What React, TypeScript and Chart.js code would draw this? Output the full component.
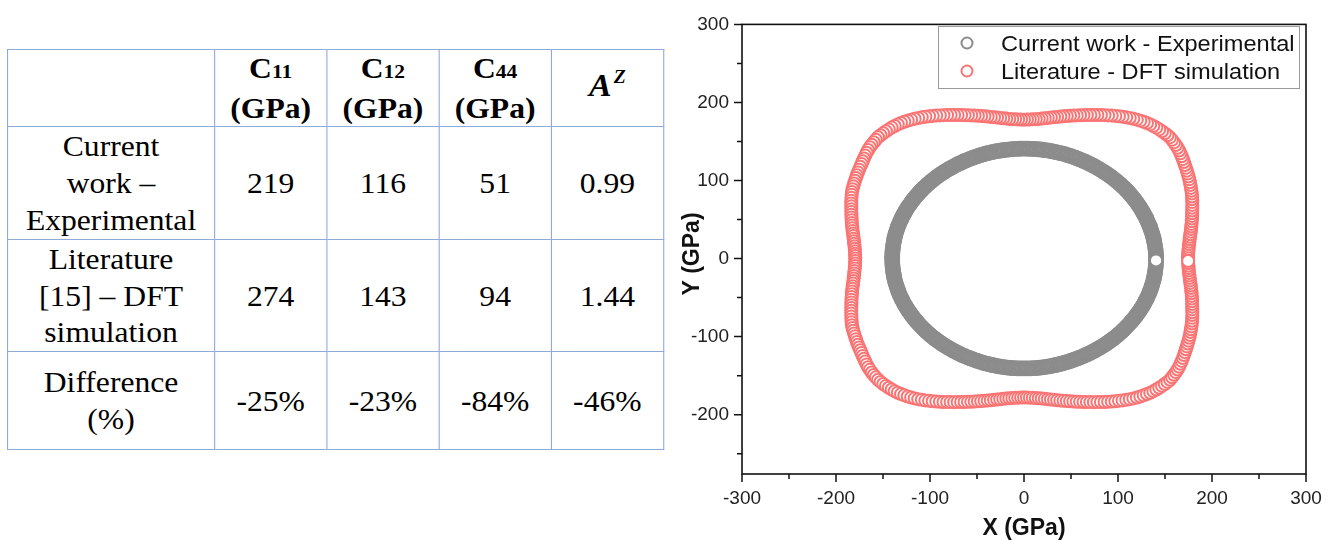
import React, { useEffect, useRef } from 'react';
import { Chart, registerables } from 'chart.js';

Chart.register(...registerables);

// ---------- Table data ----------
const TABLE_HEAD_MAIN = ['C', 'C', 'C'];
const TABLE_HEAD_SUB = ['11', '12', '44'];
const TABLE_HEAD_UNIT = '(GPa)';
const ROW_LABELS = [
  ['Current', 'work –', 'Experimental'],
  ['Literature', '[15] – DFT', 'simulation'],
  ['Difference', '(%)'],
];
const ROW_EXPERIMENTAL = ['219', '116', '51', '0.99'];
const ROW_DFT = ['274', '143', '94', '1.44'];
const ROW_DIFF = ['-25%', '-23%', '-84%', '-46%'];

// ---------- Chart data (polar: angle in degrees, radius in GPa) ----------
const ANGLES_DEG = [
  0, 1, 2, 3, 4, 5, 6, 7, 8, 9, 10, 11, 12, 13, 14, 15, 16, 17, 18, 19,
  20, 21, 22, 23, 24, 25, 26, 27, 28, 29, 30, 31, 32, 33, 34, 35, 36, 37, 38, 39,
  40, 41, 42, 43, 44, 45, 46, 47, 48, 49, 50, 51, 52, 53, 54, 55, 56, 57, 58, 59,
  60, 61, 62, 63, 64, 65, 66, 67, 68, 69, 70, 71, 72, 73, 74, 75, 76, 77, 78, 79,
  80, 81, 82, 83, 84, 85, 86, 87, 88, 89, 90, 91, 92, 93, 94, 95, 96, 97, 98, 99,
  100, 101, 102, 103, 104, 105, 106, 107, 108, 109, 110, 111, 112, 113, 114, 115, 116, 117, 118, 119,
  120, 121, 122, 123, 124, 125, 126, 127, 128, 129, 130, 131, 132, 133, 134, 135, 136, 137, 138, 139,
  140, 141, 142, 143, 144, 145, 146, 147, 148, 149, 150, 151, 152, 153, 154, 155, 156, 157, 158, 159,
  160, 161, 162, 163, 164, 165, 166, 167, 168, 169, 170, 171, 172, 173, 174, 175, 176, 177, 178, 179,
  180, 181, 182, 183, 184, 185, 186, 187, 188, 189, 190, 191, 192, 193, 194, 195, 196, 197, 198, 199,
  200, 201, 202, 203, 204, 205, 206, 207, 208, 209, 210, 211, 212, 213, 214, 215, 216, 217, 218, 219,
  220, 221, 222, 223, 224, 225, 226, 227, 228, 229, 230, 231, 232, 233, 234, 235, 236, 237, 238, 239,
  240, 241, 242, 243, 244, 245, 246, 247, 248, 249, 250, 251, 252, 253, 254, 255, 256, 257, 258, 259,
  260, 261, 262, 263, 264, 265, 266, 267, 268, 269, 270, 271, 272, 273, 274, 275, 276, 277, 278, 279,
  280, 281, 282, 283, 284, 285, 286, 287, 288, 289, 290, 291, 292, 293, 294, 295, 296, 297, 298, 299,
  300, 301, 302, 303, 304, 305, 306, 307, 308, 309, 310, 311, 312, 313, 314, 315, 316, 317, 318, 319,
  320, 321, 322, 323, 324, 325, 326, 327, 328, 329, 330, 331, 332, 333, 334, 335, 336, 337, 338, 339,
  340, 341, 342, 343, 344, 345, 346, 347, 348, 349, 350, 351, 352, 353, 354, 355, 356, 357, 358, 359,
];

const R_EXPERIMENTAL = [
  140.5, 140.5, 140.5, 140.4, 140.4, 140.4, 140.3, 140.3, 140.3, 140.2,
  140.2, 140.2, 140.1, 140.1, 140.1, 140.0, 140.0, 140.0, 139.9, 139.9,
  139.9, 139.9, 139.9, 139.8, 139.8, 139.8, 139.8, 139.8, 139.8, 139.8,
  139.8, 139.8, 139.8, 139.8, 139.8, 139.8, 139.8, 139.8, 139.8, 139.8,
  139.8, 139.8, 139.8, 139.8, 139.8, 139.8, 139.8, 139.8, 139.8, 139.8,
  139.8, 139.8, 139.8, 139.8, 139.8, 139.9, 139.9, 139.9, 139.9, 140.0,
  140.0, 140.0, 140.1, 140.1, 140.1, 140.2, 140.2, 140.3, 140.3, 140.4,
  140.4, 140.4, 140.5, 140.5, 140.5, 140.6, 140.6, 140.6, 140.7, 140.7,
  140.7, 140.7, 140.8, 140.8, 140.8, 140.8, 140.8, 140.8, 140.8, 140.8,
  140.8, 140.8, 140.8, 140.8, 140.8, 140.8, 140.7, 140.7, 140.7, 140.7,
  140.6, 140.6, 140.6, 140.5, 140.5, 140.5, 140.4, 140.4, 140.3, 140.3,
  140.2, 140.2, 140.1, 140.1, 140.1, 140.0, 140.0, 140.0, 139.9, 139.9,
  139.9, 139.9, 139.8, 139.8, 139.8, 139.8, 139.8, 139.8, 139.8, 139.8,
  139.8, 139.8, 139.8, 139.8, 139.8, 139.8, 139.8, 139.8, 139.8, 139.8,
  139.8, 139.8, 139.8, 139.8, 139.8, 139.8, 139.9, 139.9, 139.9, 139.9,
  139.9, 140.0, 140.0, 140.0, 140.0, 140.0, 140.1, 140.1, 140.1, 140.1,
  140.1, 140.1, 140.1, 140.2, 140.2, 140.2, 140.2, 140.2, 140.2, 140.2,
  140.2, 140.2, 140.2, 140.2, 140.2, 140.2, 140.2, 140.2, 140.2, 140.2,
  140.2, 140.2, 140.2, 140.2, 140.2, 140.2, 140.2, 140.2, 140.2, 140.2,
  140.2, 140.2, 140.2, 140.2, 140.1, 140.1, 140.1, 140.1, 140.1, 140.1,
  140.1, 140.0, 140.0, 140.0, 140.0, 140.0, 139.9, 139.9, 139.9, 139.9,
  139.9, 139.8, 139.8, 139.8, 139.8, 139.8, 139.8, 139.8, 139.8, 139.8,
  139.8, 139.8, 139.8, 139.8, 139.8, 139.8, 139.8, 139.8, 139.8, 139.8,
  139.8, 139.8, 139.8, 139.8, 139.8, 139.8, 139.8, 139.8, 139.9, 139.9,
  139.9, 139.9, 140.0, 140.0, 140.0, 140.1, 140.1, 140.1, 140.2, 140.2,
  140.3, 140.3, 140.4, 140.4, 140.4, 140.5, 140.5, 140.5, 140.6, 140.6,
  140.6, 140.7, 140.7, 140.7, 140.7, 140.8, 140.8, 140.8, 140.8, 140.8,
  140.8, 140.8, 140.8, 140.8, 140.8, 140.8, 140.7, 140.7, 140.7, 140.7,
  140.6, 140.6, 140.6, 140.5, 140.5, 140.5, 140.4, 140.4, 140.3, 140.3,
  140.2, 140.2, 140.1, 140.1, 140.1, 140.0, 140.0, 140.0, 139.9, 139.9,
  139.9, 139.9, 139.8, 139.8, 139.8, 139.8, 139.8, 139.8, 139.8, 139.8,
  139.8, 139.8, 139.8, 139.8, 139.8, 139.8, 139.8, 139.8, 139.8, 139.8,
  139.8, 139.8, 139.8, 139.8, 139.8, 139.8, 139.9, 139.9, 139.9, 139.9,
  140.0, 140.0, 140.0, 140.1, 140.1, 140.1, 140.2, 140.2, 140.2, 140.3,
  140.3, 140.3, 140.3, 140.4, 140.4, 140.4, 140.4, 140.4, 140.5, 140.5,
  140.5, 140.5, 140.5, 140.5, 140.5, 140.5, 140.5, 140.5, 140.5, 140.5,
];

const R_DFT = [
  174.5, 174.6, 174.8, 175.1, 175.5, 176.0, 176.6, 177.3, 178.0, 178.8,
  179.7, 180.7, 181.7, 182.7, 183.7, 184.8, 185.9, 187.0, 188.1, 189.3,
  190.5, 191.8, 193.1, 194.4, 195.7, 197.0, 198.2, 199.4, 200.6, 201.8,
  203.0, 204.2, 205.4, 206.6, 207.8, 209.0, 210.3, 211.6, 212.9, 214.2,
  215.5, 216.5, 217.4, 218.2, 218.9, 219.5, 219.7, 219.6, 219.5, 219.3,
  219.0, 218.6, 218.1, 217.4, 216.6, 215.7, 214.7, 213.6, 212.4, 211.1,
  209.8, 208.4, 207.0, 205.6, 204.1, 202.7, 201.2, 199.8, 198.4, 197.0,
  195.6, 194.3, 193.0, 191.8, 190.6, 189.4, 188.2, 187.1, 186.0, 184.9,
  183.8, 182.9, 182.0, 181.1, 180.3, 179.6, 179.0, 178.6, 178.3, 178.1,
  178.0, 178.1, 178.3, 178.6, 179.0, 179.6, 180.3, 181.1, 182.0, 182.9,
  183.8, 184.9, 186.0, 187.1, 188.2, 189.4, 190.6, 191.8, 193.0, 194.3,
  195.6, 197.0, 198.4, 199.8, 201.2, 202.7, 204.1, 205.6, 207.0, 208.4,
  209.8, 211.1, 212.4, 213.6, 214.7, 215.7, 216.6, 217.4, 218.1, 218.6,
  219.0, 219.3, 219.5, 219.6, 219.7, 219.7, 219.1, 218.6, 218.0, 217.3,
  216.5, 215.4, 214.3, 213.2, 212.1, 211.0, 210.1, 209.2, 208.3, 207.4,
  206.5, 205.6, 204.7, 203.8, 202.9, 202.0, 200.7, 199.4, 198.1, 196.8,
  195.5, 194.3, 193.1, 192.0, 190.9, 189.8, 188.7, 187.7, 186.7, 185.7,
  184.7, 183.8, 183.0, 182.3, 181.6, 181.0, 180.5, 180.1, 179.8, 179.6,
  179.5, 179.6, 179.8, 180.1, 180.5, 181.0, 181.6, 182.3, 183.0, 183.8,
  184.7, 185.7, 186.7, 187.7, 188.7, 189.8, 190.9, 192.0, 193.1, 194.3,
  195.5, 196.8, 198.1, 199.4, 200.7, 202.0, 202.9, 203.8, 204.7, 205.6,
  206.5, 207.4, 208.3, 209.2, 210.1, 211.0, 212.1, 213.2, 214.3, 215.4,
  216.5, 217.3, 218.0, 218.6, 219.1, 219.5, 219.7, 219.6, 219.5, 219.3,
  219.0, 218.6, 218.1, 217.4, 216.6, 215.7, 214.7, 213.6, 212.4, 211.1,
  209.8, 208.4, 207.0, 205.6, 204.1, 202.7, 201.2, 199.8, 198.4, 197.0,
  195.6, 194.3, 193.0, 191.8, 190.6, 189.4, 188.2, 187.1, 186.0, 184.9,
  183.8, 182.9, 182.0, 181.1, 180.3, 179.6, 179.0, 178.6, 178.3, 178.1,
  178.0, 178.1, 178.3, 178.6, 179.0, 179.6, 180.3, 181.1, 182.0, 182.9,
  183.8, 184.9, 186.0, 187.1, 188.2, 189.4, 190.6, 191.8, 193.0, 194.3,
  195.6, 197.0, 198.4, 199.8, 201.2, 202.7, 204.1, 205.6, 207.0, 208.4,
  209.8, 211.1, 212.4, 213.6, 214.7, 215.7, 216.6, 217.4, 218.1, 218.6,
  219.0, 219.3, 219.5, 219.6, 219.7, 219.7, 218.9, 218.2, 217.4, 216.5,
  215.5, 214.2, 212.9, 211.6, 210.3, 209.0, 207.8, 206.6, 205.4, 204.2,
  203.0, 201.8, 200.6, 199.4, 198.2, 197.0, 195.7, 194.4, 193.1, 191.8,
  190.5, 189.3, 188.1, 187.0, 185.9, 184.8, 183.7, 182.7, 181.7, 180.7,
  179.7, 178.8, 178.0, 177.3, 176.6, 176.0, 175.5, 175.1, 174.8, 174.6,
];

const SERIES_LABELS = ['Current work - Experimental', 'Literature - DFT simulation'];
const X_MAJOR_TICKS = [-300, -200, -100, 0, 100, 200, 300];
const X_MINOR_TICKS = [-250, -150, -50, 50, 150, 250];
const Y_MAJOR_TICKS = [-200, -100, 0, 100, 200, 300];
const Y_MINOR_TICKS = [-250, -150, -50, 50, 150, 250];
const X_RANGE = [-300, 300];
const Y_RANGE = [-276, 300];
const X_TITLE = 'X (GPa)';
const Y_TITLE = 'Y (GPa)';

const GREY = 'rgb(140,140,140)';
const RED = 'rgb(250,116,116)';
const SANS = '"Liberation Sans", Arial, sans-serif';

const toPoints = (angles: number[], radii: number[]) =>
  angles.map((a, i) => {
    const t = (a * Math.PI) / 180;
    return { x: radii[i] * Math.cos(t), y: radii[i] * Math.sin(t) };
  });

const decorPlugin = {
  id: 'decor',
  afterDatasetsDraw(chart: any) {
    const { ctx, chartArea: ca, scales } = chart;
    const xs = scales.x;
    const ys = scales.y;
    ctx.save();
    // frame
    ctx.strokeStyle = '#111';
    ctx.lineWidth = 1.6;
    ctx.strokeRect(ca.left, ca.top, ca.right - ca.left, ca.bottom - ca.top);
    // ticks
    ctx.lineWidth = 1.5;
    ctx.beginPath();
    X_MAJOR_TICKS.forEach((v) => {
      const p = xs.getPixelForValue(v);
      ctx.moveTo(p, ca.bottom);
      ctx.lineTo(p, ca.bottom + 8);
    });
    X_MINOR_TICKS.forEach((v) => {
      const p = xs.getPixelForValue(v);
      ctx.moveTo(p, ca.bottom);
      ctx.lineTo(p, ca.bottom + 5);
    });
    Y_MAJOR_TICKS.forEach((v) => {
      const p = ys.getPixelForValue(v);
      ctx.moveTo(ca.left, p);
      ctx.lineTo(ca.left - 8, p);
    });
    Y_MINOR_TICKS.forEach((v) => {
      const p = ys.getPixelForValue(v);
      ctx.moveTo(ca.left, p);
      ctx.lineTo(ca.left - 5, p);
    });
    ctx.stroke();

    // legend
    const lx = 268.5;
    const ly = 26.5;
    ctx.strokeStyle = '#9a9a9a';
    ctx.lineWidth = 1;
    ctx.strokeRect(lx, ly, 361, 62);
    const colors = [GREY, RED];
    const rowsY = [43, 71];
    ctx.font = `21.5px ${SANS}`;
    ctx.fillStyle = '#111';
    ctx.textAlign = 'left';
    ctx.textBaseline = 'alphabetic';
    SERIES_LABELS.forEach((label, i) => {
      ctx.beginPath();
      ctx.strokeStyle = colors[i];
      ctx.lineWidth = 2;
      ctx.arc(297, rowsY[i], 5.5, 0, Math.PI * 2);
      ctx.stroke();
      ctx.save();
      ctx.translate(331, rowsY[i] + 8);
      ctx.scale(1.097, 1);
      ctx.fillText(label, 0, 0);
      ctx.restore();
    });

    // axis titles
    ctx.font = `bold 23px ${SANS}`;
    ctx.fillStyle = '#111';
    ctx.textAlign = 'center';
    ctx.fillText(X_TITLE, (ca.left + ca.right) / 2, 535);
    ctx.save();
    ctx.translate(29, 254);
    ctx.rotate(-Math.PI / 2);
    ctx.fillText(Y_TITLE, 0, 0);
    ctx.restore();
    ctx.restore();
  },
};

function ScatterChart() {
  const ref = useRef<HTMLCanvasElement | null>(null);
  useEffect(() => {
    if (!ref.current) return;
    const common = {
      pointStyle: 'circle',
      pointHoverRadius: 6,
      backgroundColor: '#ffffff',
      pointBackgroundColor: '#ffffff',
      showLine: false,
    };
    const chart = new Chart(ref.current, {
      type: 'scatter',
      data: {
        datasets: [
          {
            ...common,
            label: SERIES_LABELS[0],
            data: toPoints(ANGLES_DEG, R_EXPERIMENTAL),
            borderColor: GREY,
            pointBorderColor: GREY,
            pointRadius: 6.5,
            pointBorderWidth: 2.8,
          },
          {
            ...common,
            label: SERIES_LABELS[1],
            data: toPoints(ANGLES_DEG, R_DFT),
            borderColor: RED,
            pointBorderColor: RED,
            pointRadius: 6,
            pointBorderWidth: 2,
          },
        ],
      },
      options: {
        responsive: false,
        animation: false,
        devicePixelRatio: 1,
        layout: { padding: { left: 0, top: 19, right: 29, bottom: 0 } },
        plugins: { legend: { display: false }, tooltip: { enabled: false } },
        scales: {
          x: {
            type: 'linear',
            min: X_RANGE[0],
            max: X_RANGE[1],
            grid: { display: false, drawTicks: false, tickLength: 0 },
            border: { display: false },
            ticks: {
              font: { family: SANS, size: 19 },
              color: '#222',
              padding: 13,
              maxRotation: 0,
              autoSkip: false,
            },
            afterBuildTicks: (s: any) => {
              s.ticks = X_MAJOR_TICKS.map((v) => ({ value: v }));
            },
            afterFit: (s: any) => {
              s.height = 66;
            },
          },
          y: {
            type: 'linear',
            min: Y_RANGE[0],
            max: Y_RANGE[1],
            grid: { display: false, drawTicks: false, tickLength: 0 },
            border: { display: false },
            ticks: {
              font: { family: SANS, size: 19 },
              color: '#222',
              padding: 13,
              autoSkip: false,
            },
            afterBuildTicks: (s: any) => {
              s.ticks = Y_MAJOR_TICKS.map((v) => ({ value: v }));
            },
            afterFit: (s: any) => {
              s.width = 72;
            },
          },
        },
      },
      plugins: [decorPlugin],
    } as any);
    return () => chart.destroy();
  }, []);
  return (
    <canvas
      ref={ref}
      width={665}
      height={540}
      style={{ position: 'absolute', left: 670, top: 0, width: 665, height: 540 }}
    />
  );
}

const SX = 1.09;
const COL1 = 207 / SX;
const COLN = 112.25 / SX;
const ROW_H = [74, 113, 112, 98];
const BORDER = '1px solid #8eaadb';

function DataTable() {
  const cell: React.CSSProperties = {
    border: BORDER,
    padding: 0,
    textAlign: 'center',
    verticalAlign: 'middle',
  };
  const valueRows = [ROW_EXPERIMENTAL, ROW_DFT, ROW_DIFF];
  return (
    <div
      style={{
        position: 'absolute',
        left: 7,
        top: 49,
        transform: `scaleX(${SX})`,
        transformOrigin: '0 0',
      }}
    >
      <table
        style={{
          borderCollapse: 'collapse',
          tableLayout: 'fixed',
          width: COL1 + COLN * 4,
          fontFamily: '"Liberation Serif", "Times New Roman", serif',
          fontSize: 29,
          lineHeight: '36.7px',
          color: '#000',
        }}
      >
        <colgroup>
          <col style={{ width: COL1 }} />
          <col style={{ width: COLN }} />
          <col style={{ width: COLN }} />
          <col style={{ width: COLN }} />
          <col style={{ width: COLN }} />
        </colgroup>
        <tbody>
          <tr style={{ height: ROW_H[0] }}>
            <td style={cell}></td>
            {TABLE_HEAD_MAIN.map((m, i) => (
              <td key={i} style={{ ...cell, fontWeight: 'bold' }}>
                {m}
                <span style={{ fontSize: '0.68em' }}>{TABLE_HEAD_SUB[i]}</span>
                <br />
                {TABLE_HEAD_UNIT}
              </td>
            ))}
            <td style={{ ...cell, fontWeight: 'bold', fontStyle: 'italic' }}>
              <span style={{ fontSize: 31 }}>A</span>
              <span style={{ fontSize: 18, position: 'relative', top: -13, marginLeft: 2 }}>Z</span>
            </td>
          </tr>
          {valueRows.map((vals, r) => (
            <tr key={r} style={{ height: ROW_H[r + 1] }}>
              <td style={cell}>
                {ROW_LABELS[r].map((l, k) => (
                  <React.Fragment key={k}>
                    {k > 0 && <br />}
                    {l}
                  </React.Fragment>
                ))}
              </td>
              {vals.map((v, i) => (
                <td key={i} style={cell}>
                  {v}
                </td>
              ))}
            </tr>
          ))}
        </tbody>
      </table>
    </div>
  );
}

export default function App() {
  return (
    <div
      style={{
        position: 'absolute',
        left: 0,
        top: 0,
        width: 1335,
        height: 540,
        background: '#fff',
        overflow: 'hidden',
      }}
    >
      <DataTable />
      <ScatterChart />
    </div>
  );
}
